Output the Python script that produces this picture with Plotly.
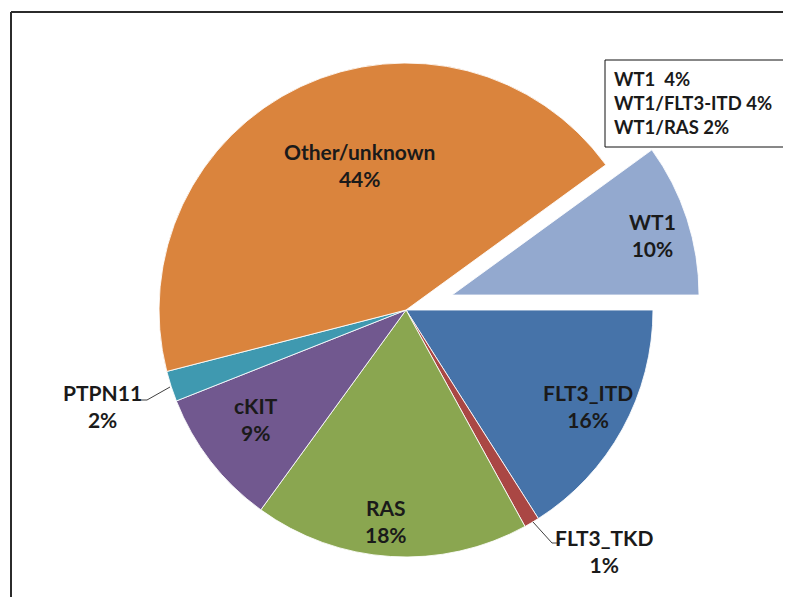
import plotly.graph_objects as go

# ---- data ----
labels = ["FLT3_ITD", "FLT3_TKD", "RAS", "cKIT", "PTPN11", "Other/unknown", "WT1"]
values = [16, 1, 18, 9, 2, 44, 10]
colors = ["#4673A9", "#AA4744", "#8AA650", "#71588F", "#3F99B0", "#DA843D", "#93A9CF"]
pulls = [0, 0, 0, 0, 0, 0, 0.196]

wt1_sub_labels = ["WT1", "WT1/FLT3-ITD", "WT1/RAS"]
wt1_sub_values = [4, 4, 2]

# ---- layout styling (screen pixel positions of label blocks) ----
W, H = 791, 604
OFF = 8  # page offset of the figure inside the browser window
label_pos = {
    "FLT3_ITD": (588, 406),
    "FLT3_TKD": (604, 551),
    "RAS": (386, 521),
    "cKIT": (256, 419),
    "PTPN11": (102, 406),
    "Other/unknown": (359, 165),
    "WT1": (652, 235),
}


def px(x):
    return (x - OFF) / W


def py(y):
    return 1 - (y - OFF) / H


# pie centre (406, 310) on screen, radius ~247 with the pull
cx = 406 - OFF
half = 295.4
fig = go.Figure()
fig.add_trace(go.Pie(
    labels=labels,
    values=values,
    sort=False,
    direction="clockwise",
    rotation=90,
    pull=pulls,
    textinfo="none",
    hoverinfo="label+percent",
    marker=dict(colors=colors, line=dict(color="rgba(255,255,255,0.85)", width=1)),
    domain=dict(x=[(cx - half) / W, (cx + half) / W], y=[0, 1]),
    showlegend=False,
))

annotations = []
for lab, val in zip(labels, values):
    x, y = label_pos[lab]
    annotations.append(dict(
        x=px(x), y=py(y), xref="paper", yref="paper",
        text=f"{lab}<br>{val}%", showarrow=False,
        xanchor="center", yanchor="middle", align="center",
        font=dict(family="Lato", size=21, color="#1a1a1a", weight="bold"),
    ))

legend_text = "<br>".join(
    f"{l}{chr(160) + ' ' if l == 'WT1' else ' '}{v}%" for l, v in zip(wt1_sub_labels, wt1_sub_values)
)
annotations.append(dict(
    x=px(612), y=py(103), xref="paper", yref="paper",
    text=legend_text, showarrow=False, xanchor="left", yanchor="middle", align="left",
    font=dict(family="Lato", size=18.5, color="#1a1a1a", weight="bold"),
))

shapes = [
    # outer frame (left and top edges visible)
    dict(type="line", xref="paper", yref="paper", x0=px(11), x1=px(11), y0=py(12), y1=py(H + 40),
         line=dict(color="#2b2b2b", width=2)),
    dict(type="line", xref="paper", yref="paper", x0=px(11), x1=px(W + 40), y0=py(12), y1=py(12),
         line=dict(color="#2b2b2b", width=2)),
    # sub-breakdown box
    dict(type="rect", xref="paper", yref="paper", x0=px(605), x1=px(W + 40), y0=py(60), y1=py(147),
         line=dict(color="#111111", width=1), fillcolor="white"),
    # leader lines
    dict(type="path", xref="paper", yref="paper",
         path=f"M {px(140)},{py(400)} L {px(147)},{py(400)} L {px(170)},{py(387)}",
         line=dict(color="#404040", width=1)),
    dict(type="path", xref="paper", yref="paper",
         path=f"M {px(533)},{py(522)} L {px(552)},{py(543)} L {px(560)},{py(543)}",
         line=dict(color="#404040", width=1)),
]

fig.update_layout(
    width=W, height=H,
    margin=dict(l=0, r=0, t=0, b=0),
    paper_bgcolor="white", plot_bgcolor="white",
    annotations=annotations,
    shapes=shapes,
)

fig.write_html("out.html")
